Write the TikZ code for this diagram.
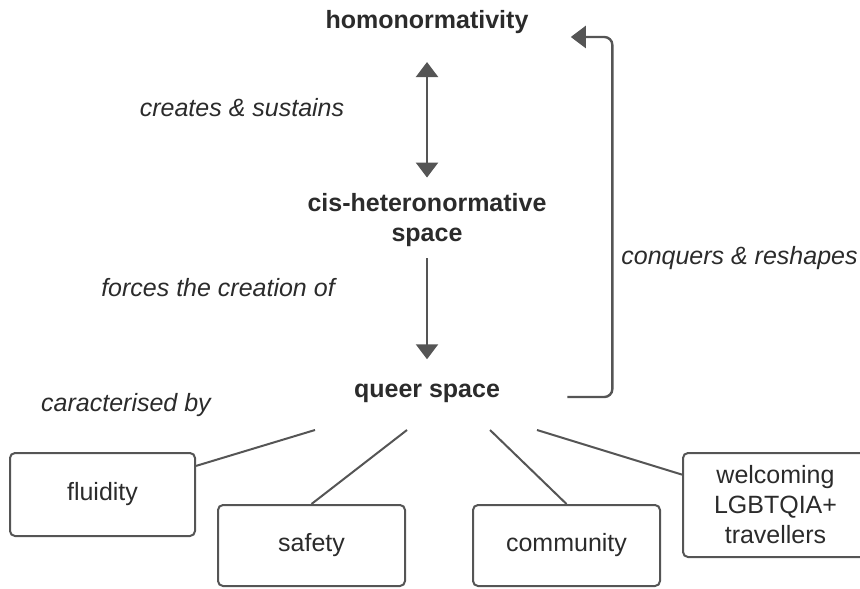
\documentclass[tikz,border=0pt]{standalone}
\usepackage{fontspec}
\setmainfont{Liberation Sans}
\usetikzlibrary{arrows.meta}

\begin{document}
\begin{tikzpicture}[x=0.5pt, y=-0.5pt,
        schrift/.style={font=\fontsize{12.5}{15}\selectfont, text=ciText},
        haupt/.style={schrift, font=\fontsize{12.5}{15}\selectfont\bfseries, inner sep=0pt, align=center},
        hinweis/.style={schrift, font=\fontsize{12.5}{15}\selectfont\itshape, inner sep=0pt},
        kasten/.style={schrift, draw=ciLine, line width=1pt, rounded corners=2.5pt, align=center},
        linie/.style={draw=ciLine, line width=1pt},
        pfeil/.style={draw=ciLine, line width=1.2pt, -{Triangle[length=7.5pt, width=11pt]}}]
        % Farben
        \definecolor{ciText}{HTML}{2B2B2B}
        \definecolor{ciLine}{HTML}{555555}

        \useasboundingbox (0,0) rectangle (860,588);

        % Hauptbegriffe
        \node[haupt] (homo) at (427,22) {homonormativity};
        \node[haupt] (cis) at (427,220) {cis-heteronormative\\space};
        \node[haupt] (queer) at (427,393) {queer space};

        % Beschriftungen
        \node[hinweis] (lbcreate) at (242,108) {creates \& sustains};
        \node[hinweis] (lbforce) at (218,288) {forces the creation of};
        \node[hinweis] (lbchar) at (126,405) {caracterised by};
        \node[hinweis, anchor=east] (lbconq) at (858,258) {conquers \& reshapes};

        % Merkmale
        \node[kasten, minimum width=92.5pt, minimum height=41.5pt] (fluid) at (102.5,494.5) {fluidity};
        \node[kasten, minimum width=93.5pt, minimum height=40.5pt] (safe) at (311.5,545.5) {safety};
        \node[kasten, minimum width=93.5pt, minimum height=40.5pt] (comm) at (566.5,545.5) {community};
        \node[kasten, minimum width=92.5pt, minimum height=52pt] (welc) at (775.5,505) {welcoming\\LGBTQIA+\\travellers};

        % Pfeile
        \draw[pfeil, {Triangle[length=7.5pt, width=11pt]}-{Triangle[length=7.5pt, width=11pt]},
            shorten <=14pt, shorten >=7.7pt] (homo) -- (cis);
        \draw[pfeil, shorten <=5.6pt, shorten >=12pt] (cis) -- (queer);
        \draw[pfeil, rounded corners=4pt] ([xshift=33.5pt, yshift=-2pt]queer.east) -- ++(45,0)
            |- ([xshift=21pt, yshift=-7.5pt]homo.east);

        % Verbindungen zu den Merkmalen
        \foreach \k/\x/\z in {1/315/fluid.17, 2/407/safe.north, 3/490/comm.north, 4/537/welc.162}
        {
            \coordinate (q\k) at (\x,430);
            \draw[linie] (q\k) -- (\z);
        }
\end{tikzpicture}
\end{document}
